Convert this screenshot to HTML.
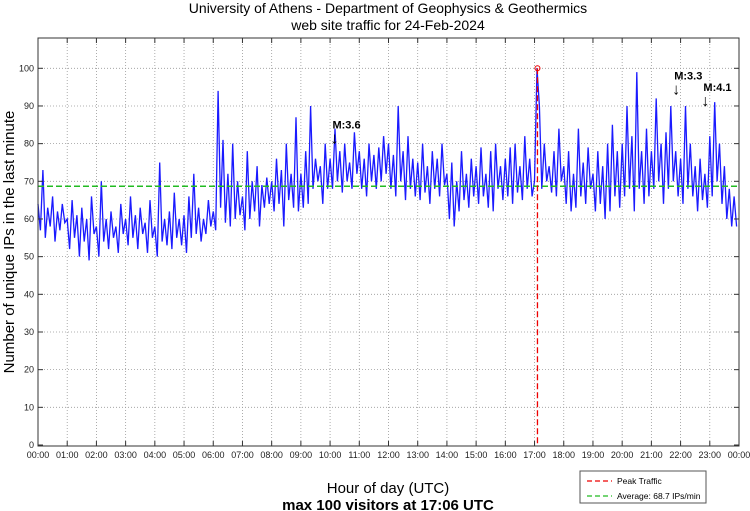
<!DOCTYPE html>
<html><head><meta charset="utf-8"><style>
body{margin:0;background:#fff}
svg{display:block;font-family:"Liberation Sans",sans-serif}
</style></head><body>
<svg id="chart" width="750" height="511">
<text x="388" y="13" font-size="14" text-anchor="middle">University of Athens - Department of Geophysics &amp; Geothermics</text>
<text x="388" y="30" font-size="14" text-anchor="middle">web site traffic for 24-Feb-2024</text>
<g id="grid"></g>
<g id="series"></g>
<rect x="38" y="38" width="701" height="408" fill="none" stroke="#333" stroke-width="1"/>
<g id="axes" font-size="9" fill="#222"></g>
<text transform="translate(14,242) rotate(-90)" font-size="15" text-anchor="middle">Number of unique IPs in the last minute</text>
<text x="388" y="493" font-size="15" text-anchor="middle">Hour of day (UTC)</text>
<text x="388" y="510" font-size="15" font-weight="bold" text-anchor="middle">max 100 visitors at 17:06 UTC</text>
<g>
<rect x="580" y="471" width="126" height="32" fill="#fff" stroke="#555"/>
<line x1="587" y1="481" x2="612" y2="481" stroke="#e00" stroke-width="1.3" stroke-dasharray="5,3"/>
<text x="617" y="484" font-size="8.5">Peak Traffic</text>
<line x1="587" y1="496" x2="612" y2="496" stroke="#2b2" stroke-width="1.3" stroke-dasharray="5,3"/>
<text x="617" y="499" font-size="8.5">Average: 68.7 IPs/min</text>
</g>
</svg>
<script>
const hourTicks=["00:00","01:00","02:00","03:00","04:00","05:00","06:00","07:00","08:00","09:00","10:00","11:00","12:00","13:00","14:00","15:00","16:00","17:00","18:00","19:00","20:00","21:00","22:00","23:00","00:00"];
const yTicks=[0,10,20,30,40,50,60,70,80,90,100];
const average=68.7;
const peakHour=17.1, peakValue=100;
const quakeLabels=["M:3.6","M:3.3","M:4.1"];
const quakeHours=[10.15,21.85,22.85];
const quakeValues=[80,93,90];
const traffic=[
64,57,73,55,63,58,66,54,62,57,64,59,
60,52,65,55,61,50,63,54,60,49,66,56,
58,50,70,54,60,52,62,55,58,51,64,56,
60,53,66,55,61,52,63,56,59,51,65,55,
58,50,75,54,60,53,62,52,67,55,60,53,
61,51,66,55,72,56,63,54,60,56,65,58,
62,57,94,63,81,59,72,58,80,60,70,61,
66,57,78,60,70,62,74,58,69,63,71,64,
70,62,76,64,73,58,80,65,72,63,87,62,
72,63,78,64,90,68,76,70,74,64,80,68,
76,68,84,70,78,67,80,70,75,68,83,72,
78,68,76,66,80,70,77,68,79,70,82,72,
80,68,77,66,90,70,78,65,82,68,76,66,
75,65,80,67,74,64,78,68,76,66,80,69,
72,60,75,58,70,62,78,65,72,63,76,66,
74,64,79,66,72,63,78,62,80,68,74,65,
76,66,79,64,80,67,74,65,82,68,76,66,
70,100,90,68,80,70,74,67,78,66,84,70,
74,64,78,62,72,63,84,66,75,64,79,68,
72,62,78,64,74,60,80,62,85,66,78,63,
80,66,90,68,82,62,99,68,78,64,84,66,
78,68,92,70,80,64,83,68,90,70,78,66,
76,64,90,68,80,66,74,62,76,65,72,63,
82,66,91,70,80,64,74,60,68,58,66,58];
const NS="http://www.w3.org/2000/svg";
const X0=38,X1=739,Y0=445,Ytop=38;
const xs=h=>X0+(X1-X0)*h/24;
const ys=v=>Y0-(Y0-68.3)*v/100;
function mk(tag,attrs,parent){const e=document.createElementNS(NS,tag);for(const k in attrs)e.setAttribute(k,attrs[k]);parent.appendChild(e);return e;}
const grid=document.getElementById('grid'),axes=document.getElementById('axes'),ser=document.getElementById('series');
hourTicks.forEach((t,i)=>{const x=xs(i);
 if(i>0&&i<24){const g=mk('line',{x1:x,x2:x,y1:Ytop,y2:446,stroke:'#999','stroke-dasharray':'1,2','stroke-width':0.8},grid);
 
 }
 mk('line',{x1:x,x2:x,y1:446,y2:441,stroke:'#333'},axes);
 mk('line',{x1:x,x2:x,y1:38,y2:43,stroke:'#333'},axes);
 const tx=mk('text',{x:x,y:458,'text-anchor':'middle'},axes);tx.textContent=t;
 
 
});
yTicks.forEach(v=>{const y=ys(v);
 if(v>0){const g=mk('line',{x1:X0,x2:X1,y1:y,y2:y,stroke:'#999','stroke-dasharray':'1,2','stroke-width':0.8},grid);
 
 }
 mk('line',{x1:X0,x2:X0+5,y1:y,y2:y,stroke:'#333'},axes);
 mk('line',{x1:X1,x2:X1-5,y1:y,y2:y,stroke:'#333'},axes);
 const tx=mk('text',{x:34,y:y+3,'text-anchor':'end'},axes);tx.textContent=v;
 
 
});
const pts=traffic.map((v,i)=>xs(i*24/traffic.length).toFixed(1)+','+ys(v).toFixed(1)).join(' ');
const pl=mk('polyline',{points:pts,fill:'none',stroke:'#1a1aff','stroke-width':1.3},ser);


const av=mk('line',{x1:X0,x2:X1,y1:ys(average),y2:ys(average),stroke:'#2b2','stroke-width':1.5,'stroke-dasharray':'6,3'},ser);


const pk=mk('line',{x1:xs(peakHour),x2:xs(peakHour),y1:ys(peakValue),y2:446,stroke:'#e00','stroke-width':1.3,'stroke-dasharray':'6,3'},ser);


const pc=mk('circle',{cx:xs(peakHour),cy:ys(peakValue),r:2.5,fill:'none',stroke:'#e00'},ser);


quakeLabels.forEach((l,i)=>{const x=xs(quakeHours[i]),y=ys(quakeValues[i]);
 const a=mk('text',{x:x,y:y,'font-size':16,'text-anchor':'middle'},ser);a.textContent='↓';
 
 
 const t=mk('text',{x:x-2,y:y-15,'font-size':11,'font-weight':'bold'},ser);t.textContent=l;
 
 
});
</script>
</body></html>
